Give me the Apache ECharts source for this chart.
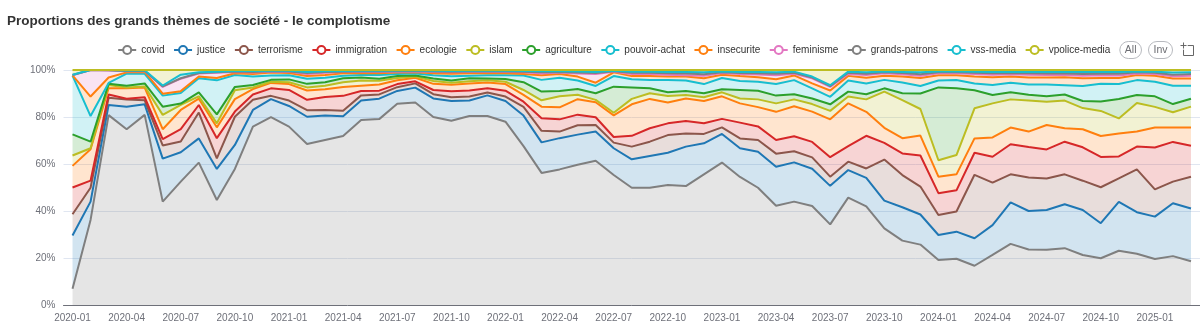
<!DOCTYPE html>
<html>
<head>
<meta charset="utf-8">
<script src="https://cdn.jsdelivr.net/npm/echarts@6/dist/echarts.min.js"></script>
<style>
  html, body { margin: 0; padding: 0; background: #fff; }
  #chart { width: 1200px; height: 330px; }
</style>
</head>
<body>
<div id="chart"></div>
<script>
// Monthly share (%) of each theme in conspiracy-related content
const months = [
  '2020-01','2020-02','2020-03','2020-04','2020-05','2020-06','2020-07','2020-08','2020-09','2020-10','2020-11','2020-12',
  '2021-01','2021-02','2021-03','2021-04','2021-05','2021-06','2021-07','2021-08','2021-09','2021-10','2021-11','2021-12',
  '2022-01','2022-02','2022-03','2022-04','2022-05','2022-06','2022-07','2022-08','2022-09','2022-10','2022-11','2022-12',
  '2023-01','2023-02','2023-03','2023-04','2023-05','2023-06','2023-07','2023-08','2023-09','2023-10','2023-11','2023-12',
  '2024-01','2024-02','2024-03','2024-04','2024-05','2024-06','2024-07','2024-08','2024-09','2024-10','2024-11','2024-12',
  '2025-01','2025-02','2025-03'
];

const covid = [6.9, 36.2, 80.8, 74.8, 80.9, 44.0, 52.5, 60.6, 44.7, 57.9, 75.9, 79.9, 75.9, 68.5, 70.2, 71.9, 78.7, 79.1, 85.6, 86.2, 80.0, 78.4, 80.4, 80.4, 78.0, 67.6, 56.2, 57.7, 59.7, 61.4, 55.3, 49.9, 49.9, 51.1, 50.6, 55.6, 60.6, 54.5, 49.9, 42.2, 44.0, 42.1, 34.3, 45.7, 42.0, 32.6, 27.4, 25.7, 19.1, 19.7, 16.7, 21.3, 26.0, 23.6, 23.5, 24.2, 21.3, 19.9, 23.1, 21.8, 19.6, 20.8, 18.6];
const justice = [22.7, 7.8, 4.3, 9.6, 4.5, 18.3, 12.5, 10.3, 13.2, 10.2, 7.1, 7.7, 8.8, 11.6, 10.4, 8.4, 8.3, 8.7, 5.5, 6.3, 7.9, 8.4, 6.6, 8.8, 8.8, 13.0, 13.0, 13.3, 12.8, 12.4, 11.4, 12.1, 13.5, 13.7, 16.8, 13.2, 12.2, 12.2, 15.3, 16.6, 16.7, 15.9, 16.4, 11.7, 12.1, 11.8, 14.2, 12.8, 10.7, 11.5, 11.7, 12.7, 17.7, 16.4, 16.9, 18.7, 19.1, 14.9, 20.8, 17.7, 18.0, 22.5, 22.5];
const terrorisme = [9.0, 5.9, 3.1, 3.0, 1.7, 5.6, 4.6, 11.0, 4.5, 12.0, 4.3, 1.4, 2.3, 2.8, 2.4, 2.4, 2.2, 1.8, 1.6, 1.8, 1.8, 1.6, 1.7, 1.2, 1.9, 3.7, 4.9, 2.8, 4.0, 2.8, 2.4, 5.4, 6.1, 7.5, 5.6, 4.0, 2.8, 4.2, 5.0, 5.6, 4.7, 4.8, 3.9, 3.6, 4.0, 17.5, 13.7, 11.9, 8.5, 8.6, 27.0, 18.1, 11.9, 14.3, 13.4, 12.7, 12.5, 15.3, 10.0, 18.2, 11.6, 9.2, 13.5];
const immigration = [11.4, 3.0, 1.4, 0.4, 1.3, 2.7, 5.2, 3.2, 8.6, 2.2, 2.3, 3.2, 4.5, 4.4, 5.5, 6.3, 1.9, 1.6, 1.3, 0.9, 1.8, 2.6, 2.6, 1.8, 2.5, 2.2, 5.4, 5.2, 4.5, 3.3, 2.4, 4.6, 5.7, 5.0, 5.3, 4.5, 3.6, 6.7, 5.8, 5.8, 6.4, 6.6, 8.3, 6.6, 13.9, 7.1, 9.2, 13.2, 9.3, 9.0, 9.4, 11.0, 12.8, 12.9, 12.4, 13.9, 14.2, 12.9, 9.3, 9.7, 17.8, 16.9, 13.2];
const ecologie = [9.2, 13.4, 2.6, 4.4, 4.1, 4.2, 8.2, 2.7, 4.6, 5.3, 2.3, 2.3, 2.5, 4.0, 3.3, 3.8, 2.2, 2.6, 1.6, 1.5, 2.6, 2.7, 3.0, 2.5, 2.8, 2.9, 4.9, 5.1, 6.6, 6.4, 9.2, 13.4, 12.5, 8.9, 9.6, 9.5, 9.6, 8.2, 8.2, 12.0, 12.8, 12.9, 16.1, 18.2, 10.2, 6.4, 6.5, 8.5, 7.0, 6.8, 6.1, 8.2, 7.1, 6.6, 10.4, 5.7, 7.7, 8.9, 9.8, 6.4, 8.5, 6.1, 7.7];
const islam = [4.4, 0.4, 1.4, 0.4, 0.5, 6.1, 2.2, 1.0, 1.7, 3.8, 0.7, 0.5, 0.8, 1.3, 1.5, 2.0, 2.2, 1.6, 1.0, 0.5, 1.2, 0.9, 0.9, 0.9, 1.0, 2.1, 2.7, 4.7, 1.9, 1.0, 1.1, 2.3, 2.4, 2.7, 1.5, 1.6, 1.7, 2.1, 3.3, 3.6, 2.9, 3.2, 3.6, 2.9, 5.3, 15.4, 16.2, 11.3, 7.0, 8.2, 12.8, 14.5, 12.0, 13.2, 9.9, 11.8, 9.0, 10.7, 6.4, 12.2, 8.8, 6.5, 8.9];
const agriculture = [9.0, 2.8, 0.5, 0.7, 1.3, 3.5, 0.5, 1.7, 3.8, 1.4, 1.0, 0.8, 1.2, 1.5, 1.5, 1.7, 1.3, 0.9, 0.8, 0.5, 1.1, 0.9, 1.3, 0.8, 1.2, 3.3, 3.7, 2.3, 2.4, 2.8, 11.1, 4.9, 2.1, 1.6, 1.7, 1.7, 1.3, 3.6, 3.7, 3.3, 2.2, 2.4, 2.8, 2.1, 2.2, 1.4, 2.9, 6.6, 31.0, 28.4, 7.7, 3.6, 3.0, 2.5, 2.3, 2.6, 3.0, 4.0, 8.3, 3.4, 4.5, 3.5, 3.4];
const pouvoirAchat = [25.0, 10.9, 0.4, 5.2, 4.1, 4.7, 4.5, 6.0, 14.5, 5.1, 3.6, 1.9, 1.8, 2.2, 1.9, 1.1, 1.1, 1.6, 0.9, 0.8, 1.4, 1.8, 1.1, 1.4, 1.6, 2.9, 5.0, 5.6, 3.6, 3.1, 4.5, 3.5, 3.5, 5.2, 4.4, 3.9, 4.8, 3.8, 3.8, 4.9, 6.0, 4.3, 3.2, 4.7, 4.6, 3.6, 4.6, 3.2, 2.9, 3.5, 2.9, 4.2, 4.1, 4.3, 5.0, 3.9, 6.4, 7.5, 6.3, 6.3, 6.2, 7.8, 5.5];
const insecurite = [0.1, 8.3, 2.3, 0.5, 0.8, 0.8, 0.8, 0.7, 1.0, 0.7, 1.1, 1.2, 0.9, 1.1, 1.2, 1.0, 0.8, 0.7, 0.6, 0.5, 0.8, 1.1, 1.0, 0.8, 0.8, 0.6, 2.0, 1.6, 1.7, 1.4, 1.6, 1.3, 1.7, 1.5, 1.7, 2.5, 1.4, 2.1, 1.9, 2.1, 2.0, 2.1, 2.7, 2.0, 2.4, 1.8, 2.5, 3.4, 2.3, 2.1, 2.9, 3.3, 2.6, 3.0, 3.0, 3.4, 3.3, 2.5, 2.6, 2.2, 2.6, 3.1, 3.1];
const feminisme = [0.1, 11.3, 3.0, 0.5, 0.4, 2.9, 5.3, 1.3, 2.2, 0.6, 0.6, 0.4, 0.5, 0.9, 0.9, 0.5, 0.5, 0.5, 0.4, 0.4, 0.5, 0.6, 0.5, 0.5, 0.5, 0.7, 0.7, 0.6, 1.3, 3.7, 0.3, 0.9, 0.9, 0.8, 0.6, 1.0, 0.7, 0.9, 1.2, 1.7, 0.7, 2.2, 1.5, 0.8, 1.2, 1.0, 1.0, 0.9, 0.8, 0.8, 1.1, 1.1, 1.0, 1.2, 1.1, 1.0, 1.1, 1.2, 1.1, 0.6, 0.7, 0.9, 1.2];
const grandsPatrons = [0.1, 0.0, 0.1, 0.1, 0.1, 0.2, 0.2, 0.2, 0.2, 0.2, 0.3, 0.2, 0.2, 0.4, 0.3, 0.2, 0.2, 0.3, 0.2, 0.2, 0.3, 0.3, 0.3, 0.3, 0.3, 0.3, 0.5, 0.3, 0.4, 0.4, 0.2, 0.5, 0.5, 0.6, 0.7, 0.7, 0.3, 0.4, 0.5, 0.6, 0.4, 0.3, 0.3, 0.5, 0.5, 0.4, 0.5, 0.7, 0.4, 0.4, 0.5, 0.6, 0.5, 0.6, 0.6, 0.6, 0.7, 0.6, 0.7, 0.5, 0.5, 0.7, 0.7];
const vssMedia = [0.1, 0.0, 0.1, 0.2, 0.2, 0.4, 1.5, 0.3, 0.3, 0.2, 0.4, 0.2, 0.3, 0.5, 0.4, 0.3, 0.3, 0.3, 0.3, 0.2, 0.3, 0.3, 0.3, 0.3, 0.3, 0.3, 0.5, 0.3, 0.5, 0.5, 0.2, 0.5, 0.5, 0.6, 0.7, 0.8, 0.4, 0.5, 0.6, 0.6, 0.5, 0.4, 0.4, 0.5, 0.6, 0.4, 0.5, 0.8, 0.4, 0.4, 0.5, 0.6, 0.6, 0.6, 0.7, 0.7, 0.8, 0.8, 0.8, 0.4, 0.5, 0.9, 0.7];
const vpoliceMedia = [2.0, 0.0, 0.0, 0.2, 0.1, 6.6, 2.0, 1.0, 0.7, 0.4, 0.4, 0.3, 0.3, 0.8, 0.5, 0.4, 0.3, 0.3, 0.2, 0.2, 0.3, 0.4, 0.3, 0.3, 0.3, 0.4, 0.5, 0.5, 0.6, 0.8, 0.3, 0.7, 0.7, 0.8, 0.8, 1.0, 0.6, 0.8, 0.8, 1.0, 0.7, 2.8, 6.5, 0.7, 1.0, 0.6, 0.8, 1.0, 0.6, 0.6, 0.7, 0.8, 0.7, 0.8, 0.8, 0.8, 0.9, 0.8, 0.8, 0.6, 0.7, 1.1, 1.0];

const yTicks = [0, 20, 40, 60, 80, 100];

// Theme names, their values and colours, bottom of the stack first
const themes = [
  ['covid', covid, '#7f7f7f'],
  ['justice', justice, '#1f77b4'],
  ['terrorisme', terrorisme, '#8c564b'],
  ['immigration', immigration, '#d62728'],
  ['ecologie', ecologie, '#ff7f0e'],
  ['islam', islam, '#bcbd22'],
  ['agriculture', agriculture, '#2ca02c'],
  ['pouvoir-achat', pouvoirAchat, '#17becf'],
  ['insecurite', insecurite, '#ff7f0e'],
  ['feminisme', feminisme, '#e377c2'],
  ['grands-patrons', grandsPatrons, '#7f7f7f'],
  ['vss-media', vssMedia, '#17becf'],
  ['vpolice-media', vpoliceMedia, '#bcbd22']
];

const FONT = '"Liberation Sans", Arial, sans-serif';

const chart = echarts.init(document.getElementById('chart'), null, { renderer: 'canvas' });

chart.setOption({
  animation: false,
  textStyle: { fontFamily: FONT },
  title: {
    text: 'Proportions des grands thèmes de société - le complotisme',
    left: 2,
    top: 9,
    textStyle: { fontFamily: FONT, fontSize: 13.5, fontWeight: 'bold', color: '#333' }
  },
  legend: {
    top: 36,
    right: 22,
    itemWidth: 18,
    itemHeight: 10,
    itemGap: 8.5,
    textStyle: { fontFamily: FONT, fontSize: 10, color: '#333' },
    selector: [
      { type: 'all', title: 'All' },
      { type: 'inverse', title: 'Inv' }
    ],
    selectorLabel: { fontFamily: FONT, fontSize: 10.5 },
    selectorItemGap: 6,
    selectorButtonGap: 9
  },
  toolbox: {
    left: 1178,
    top: 40,
    padding: 0,
    itemSize: 13,
    showTitle: false,
    iconStyle: { borderColor: '#666', borderWidth: 1 },
    feature: {
      myZoom: {
        show: true,
        title: '',
        icon: 'path://M0,13.5h26.9 M13.5,26.9V0 M32.1,13.5H58V58H13.5V32.1',
        onclick: function () {}
      }
    }
  },
  grid: { left: 63.5, right: -5.5, top: 70, bottom: 25 },
  xAxis: {
    type: 'category',
    data: months,
    boundaryGap: true,
    axisLine: { lineStyle: { color: '#6E7079' } },
    axisLabel: { interval: 2, fontFamily: FONT, fontSize: 10, color: '#6E7079' },
    axisTick: { interval: 2 }
  },
  yAxis: {
    type: 'value',
    min: yTicks[0],
    max: yTicks[yTicks.length - 1],
    interval: yTicks[1] - yTicks[0],
    axisLabel: { formatter: '{value}%', fontFamily: FONT, fontSize: 10, color: '#6E7079' },
    splitLine: { lineStyle: { color: '#E0E6F1' } }
  },
  series: themes.map(([name, values, color]) => ({
    name: name,
    type: 'line',
    stack: 'total',
    data: values,
    symbol: 'emptyCircle',
    showSymbol: false,
    color: color,
    lineStyle: { width: 2, color: color },
    areaStyle: { color: color, opacity: 0.2 },
    emphasis: { disabled: true }
  }))
});
</script>
</body>
</html>
